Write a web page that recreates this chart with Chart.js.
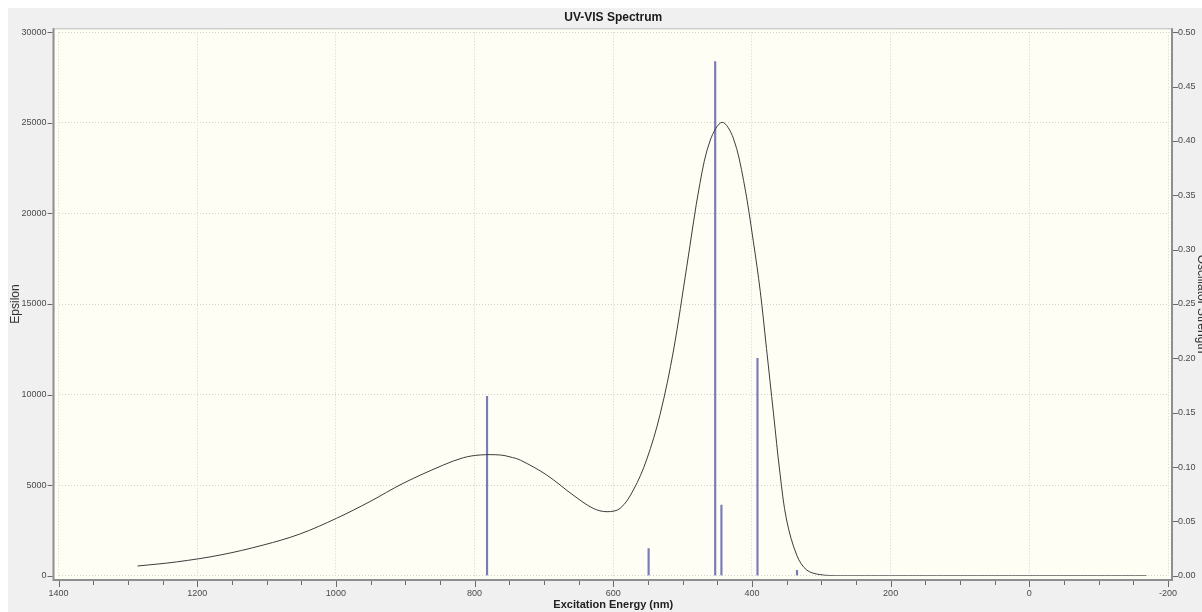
<!DOCTYPE html>
<html><head><meta charset="utf-8">
<script src="https://cdn.jsdelivr.net/npm/chart.js@4"></script>
<style>html,body{margin:0;padding:0;background:#fff;}canvas{display:block;}</style>
</head><body>
<canvas id="c" width="1202" height="612"></canvas>
<script>
// Calculated spectrum curve (wavelength nm, epsilon)
const curveNm  = [1286, 1230, 1167, 1105, 1052, 999, 951, 903, 845, 816, 792, 763, 749, 734, 696, 658, 629, 609, 590, 571, 552, 532.5, 513, 494, 475, 460, 443, 427, 412, 398, 388, 379, 369, 359.5, 350, 335, 321, 302, 273, 200, 100, 0, -100, -169];
const curveEps = [535, 760, 1140, 1690, 2300, 3170, 4090, 5100, 6110, 6515, 6665, 6665, 6560, 6380, 5560, 4455, 3720, 3533, 3720, 4730, 6390, 8900, 12460, 17060, 21660, 24055, 25030, 24170, 21810, 18460, 15700, 12540, 8990, 5640, 3075, 1100, 315, 60, 0, 0, 0, 0, 0, 0];
// Excitations (wavelength nm, oscillator strength)
const stickNm       = [782, 549, 453, 444, 392, 335];
const stickStrength = [0.165, 0.025, 0.473, 0.065, 0.200, 0.005];

const xMin = -200, xMax = 1400, xMinorStep = 50, xMajorStep = 200;
const epsMax = 30000, epsStep = 5000;
const oscMax = 0.5, oscStep = 0.05;

const tickFont = {family: '"Liberation Sans", Arial, sans-serif', size: 9};
const gridColor = '#d2d2d2';

const framePlugin = {
  id: 'frame',
  beforeDraw(chart) {
    const {ctx, chartArea: a} = chart;
    ctx.save();
    ctx.fillStyle = '#ffffff';
    ctx.fillRect(0, 0, chart.width, chart.height);
    ctx.fillStyle = '#f0f0f0';
    ctx.fillRect(8, 8, chart.width - 8, chart.height - 8);
    ctx.fillStyle = '#fefef5';
    ctx.fillRect(a.left - 4, a.top - 4, a.right - a.left + 8, a.bottom - a.top + 8);
    ctx.restore();
  },
  afterDraw(chart) {
    const {ctx, chartArea: a, scales} = chart;
    const L = a.left - 5, R = a.right + 4, T = a.top - 4, B = a.bottom + 4.3;
    ctx.save();
    ctx.strokeStyle = '#b8b8b8'; ctx.lineWidth = 1;
    ctx.beginPath(); ctx.moveTo(L, T + 0.5); ctx.lineTo(R, T + 0.5); ctx.stroke();
    ctx.strokeStyle = '#8e8e8e'; ctx.lineWidth = 2;
    ctx.beginPath();
    ctx.moveTo(L, T); ctx.lineTo(L, B + 1);
    ctx.moveTo(L - 1, B); ctx.lineTo(R + 1, B);
    ctx.moveTo(R, T); ctx.lineTo(R, B + 1);
    ctx.stroke();
    ctx.strokeStyle = '#6a6a6a'; ctx.lineWidth = 1;
    ctx.beginPath();
    scales.y.ticks.forEach(t => {
      const p = Math.round(scales.y.getPixelForValue(t.value)) + 0.5;
      ctx.moveTo(L - 6, p); ctx.lineTo(L - 1, p);
    });
    scales.y2.ticks.forEach(t => {
      const p = Math.round(scales.y2.getPixelForValue(t.value)) + 0.5;
      ctx.moveTo(R + 1, p); ctx.lineTo(R + 6, p);
    });
    scales.x.ticks.forEach(t => {
      const p = Math.round(scales.x.getPixelForValue(t.value)) + 0.5;
      const major = Math.abs(t.value % xMajorStep) < 1e-6;
      ctx.moveTo(p, B + 1); ctx.lineTo(p, B + (major ? 7 : 5));
    });
    ctx.stroke();
    ctx.restore();
  }
};

new Chart(document.getElementById('c'), {
  type: 'line',
  data: {
    datasets: [
      {
        type: 'line',
        label: 'Epsilon',
        data: curveNm.map((x, i) => ({x, y: curveEps[i]})),
        borderColor: '#3c3c3c',
        borderWidth: 1,
        pointRadius: 0,
        tension: 0.35,
        fill: false,
        yAxisID: 'y',
        order: 0
      },
      {
        type: 'bar',
        label: 'Oscillator Strength',
        data: stickNm.map((x, i) => ({x, y: stickStrength[i]})),
        backgroundColor: '#7a7ab6',
        borderWidth: 0,
        barThickness: 1.5,
        grouped: false,
        yAxisID: 'y2',
        order: 1
      }
    ]
  },
  options: {
    responsive: false,
    animation: false,
    devicePixelRatio: 1,
    layout: {padding: 0},
    plugins: {
      legend: {display: false},
      tooltip: {enabled: false},
      title: {
        display: true,
        text: 'UV-VIS Spectrum',
        fullSize: false,
        color: '#1a1a1a',
        font: {family: '"Liberation Sans", Arial, sans-serif', size: 12, weight: 'bold', lineHeight: 1.2},
        padding: {top: 10.8, bottom: 7.1}
      }
    },
    scales: {
      x: {
        type: 'linear',
        reverse: true,
        min: xMin, max: xMax,
        offset: false,
        afterFit(s) { s.height = 36.3; },
        border: {display: false, dash: [1, 2]},
        grid: {
          offset: false,
          drawTicks: false,
          color: ctx => (ctx.tick && Math.abs(ctx.tick.value % xMajorStep) < 1e-6) ? gridColor : 'rgba(0,0,0,0)',
          lineWidth: 1
        },
        ticks: {
          stepSize: xMinorStep,
          autoSkip: false,
          maxRotation: 0,
          padding: 12,
          color: '#4a4a4a',
          font: tickFont,
          callback: v => (Math.abs(v % xMajorStep) < 1e-6) ? String(v) : ''
        },
        title: {
          display: true,
          text: 'Excitation Energy (nm)',
          color: '#222',
          font: {family: '"Liberation Sans", Arial, sans-serif', size: 11, weight: 'bold', lineHeight: 1.2},
          padding: {top: 0, bottom: 0}
        }
      },
      y: {
        type: 'linear',
        position: 'left',
        min: 0, max: epsMax,
        afterFit(s) { s.width = 58.5; },
        border: {display: false, dash: [1, 2]},
        grid: {drawTicks: false, color: gridColor, lineWidth: 1},
        ticks: {
          stepSize: epsStep,
          padding: 12,
          color: '#4a4a4a',
          font: tickFont,
          callback: v => String(v)
        },
        title: {
          display: true,
          text: 'Epsilon',
          color: '#333',
          font: {family: '"Liberation Sans", Arial, sans-serif', size: 12, lineHeight: 1.2},
          padding: {top: 8, bottom: 0}
        }
      },
      y2: {
        type: 'linear',
        position: 'right',
        min: 0, max: oscMax,
        afterFit(s) { s.width = 34; },
        border: {display: false},
        grid: {drawTicks: false, drawOnChartArea: false},
        ticks: {
          stepSize: oscStep,
          padding: 10,
          color: '#4a4a4a',
          font: tickFont,
          callback: v => Number(v).toFixed(2)
        },
        title: {
          display: true,
          text: 'Oscillator Strength',
          color: '#333',
          font: {family: '"Liberation Sans", Arial, sans-serif', size: 12, lineHeight: 1.2},
          padding: {top: -7, bottom: 0}
        }
      }
    }
  },
  plugins: [framePlugin]
});
</script>
</body></html>
